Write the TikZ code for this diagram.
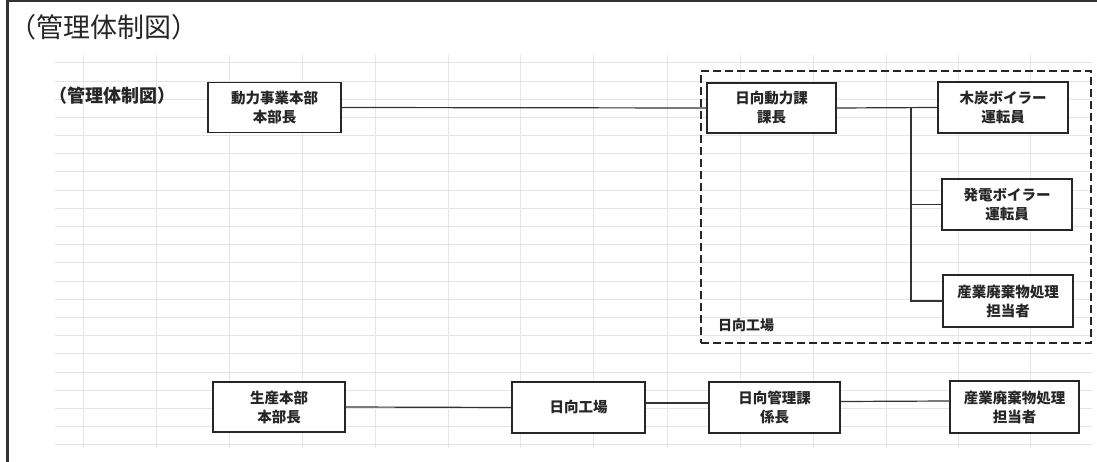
\documentclass[tikz,border=0pt]{standalone}
\usepackage{fontspec}
\newfontfamily\jp{Noto Sans CJK JP}
\begin{document}
\begin{tikzpicture}[x=1pt,y=-1pt,
  grid/.style={draw=black!10, line width=0.6pt},
  frame/.style={draw=black!80},
  box/.style={draw=black!85, line width=1.4pt, fill=white, rectangle, inner sep=0pt, align=center,
    font=\jp\bfseries\fontsize{14.5}{19}\selectfont, text=black!85},
  conn/.style={draw=black!80, line width=1.2pt},
  dashbox/.style={draw=black!85, line width=2.2pt, dash pattern=on 8pt off 4pt, rectangle, inner sep=0pt},
  lbl/.style={inner sep=0pt, text=black!85}]
\useasboundingbox (0,0) rectangle (1097,462);
\fill[white] (0,0) rectangle (1097,462);
% faint spreadsheet grid
\foreach \gx in {83,156,229,302,375,448,520,593,667,740,813,886,958,1030}
  \draw[grid] (\gx,55) -- (\gx,448);
\foreach \gy in {62,81,99,117,135,153,171,190,208,226,244,262,281,299,317,335,353,372,390,408,426,444}
  \draw[grid] (55,\gy) -- (1092,\gy);
% outer frame
\draw[frame, line width=2pt] (7,1) -- (1097,1);
\draw[frame, line width=3pt] (7,0) -- (7,462);
% titles
\node[lbl, font=\jp\fontsize{27}{30}\selectfont] (title) at (104,27) {（管理体制図）};
\node[lbl, font=\jp\bfseries\fontsize{18}{20}\selectfont] (sub) at (112,96) {（管理体制図）};
% group
\node[dashbox, minimum width=390, minimum height=272] (grp) at (896,207) {};
\node[lbl, font=\jp\bfseries\fontsize{14}{16}\selectfont] (grplbl) at (746,325) {日向工場};
% top row
\node[box, minimum width=133, minimum height=50] (b1) at (274.5,107.5) {動力事業本部\\本部長};
\node[box, minimum width=129, minimum height=50] (b2) at (771.5,108) {日向動力課\\課長};
\node[box, minimum width=130, minimum height=51] (c1) at (1003,107.5) {木炭ボイラー\\運転員};
\node[box, minimum width=130, minimum height=51] (c2) at (1007,204.5) {発電ボイラー\\運転員};
\node[box, minimum width=130, minimum height=52] (c3) at (1008,301) {産業廃棄物処理\\担当者};
% bottom row
\node[box, minimum width=132, minimum height=50] (d1) at (279,407) {生産本部\\本部長};
\node[box, minimum width=133, minimum height=51] (d2) at (578.5,407.5) {日向工場};
\node[box, minimum width=131, minimum height=51] (d3) at (774.5,407.5) {日向管理課\\係長};
\node[box, minimum width=129, minimum height=52] (d4) at (1014.5,407) {産業廃棄物処理\\担当者};
% connectors
\coordinate (t) at (911,108);
\draw[conn] (b1.east) -- (b2.west);
\draw[conn] (b2.east) -- (c1.west);
\draw[conn] (t) |- (c2.west);
\draw[conn] (t) |- (c3.west);
\draw[conn] (d1.east) -- (d2.west);
\draw[conn] ([yshift=4.5pt]d2.east) -- ([yshift=4.5pt]d3.west);
\draw[conn] ([yshift=6pt]d3.east) -- ([yshift=6pt]d4.west);
\end{tikzpicture}
\end{document}
